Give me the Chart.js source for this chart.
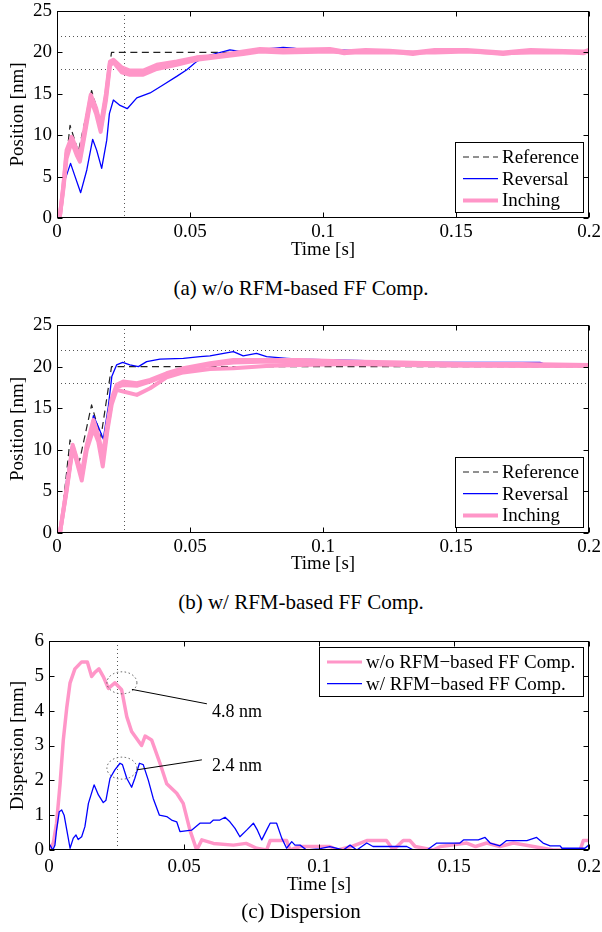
<!DOCTYPE html>
<html>
<head>
<meta charset="utf-8">
<script src="https://cdn.jsdelivr.net/npm/chart.js@4.4.0/dist/chart.umd.min.js"></script>
<style>
  body { margin: 0; background: #fff; width: 602px; height: 932px; position: relative; overflow: hidden;
         font-family: 'Liberation Serif', 'Times New Roman', serif; }
  canvas { position: absolute; left: 0; }
  .cap { position: absolute; left: 0; width: 602px; text-align: center; font-size: 21px; line-height: 24px; color: #000; }
</style>
</head>
<body>
<canvas id="chA" width="602" height="270" style="top:0px"></canvas>
<canvas id="chB" width="602" height="270" style="top:315px"></canvas>
<canvas id="chC" width="602" height="280" style="top:630px"></canvas>
<div class="cap" style="top:276px">(a) w/o RFM-based FF Comp.</div>
<div class="cap" style="top:590px">(b) w/ RFM-based FF Comp.</div>
<div class="cap" style="top:899px">(c) Dispersion</div>
<script>
// ---- data ----
const xTickVals = [0, 0.05, 0.1, 0.15, 0.2];
const xTickLabels = ['0', '0.05', '0.1', '0.15', '0.2'];
const posTicks = [0, 5, 10, 15, 20, 25];
const dispTicks = [0, 1, 2, 3, 4, 5, 6];
const posSeries = ['Reference', 'Reversal', 'Inching'];
const dispSeries = ['w/o RFM\u2212based FF Comp.', 'w/ RFM\u2212based FF Comp.'];
const guideLevels = [18, 22];
const guideTimes = [0.025];

// reference trajectory (same in a and b)
const refT = [0, 0.0012, 0.0049, 0.0080, 0.0130, 0.0165, 0.0205, 0.2];
const refV = [0, 0, 11.2, 8.0, 15.4, 11.5, 20.0, 20.0];

// (a) reversal
const revAT = [0, 0.001, 0.003, 0.0051, 0.0068, 0.0089, 0.0112, 0.0134, 0.0149, 0.0168, 0.0187, 0.0197, 0.0212, 0.0237, 0.0264, 0.030, 0.035, 0.040, 0.045, 0.0488, 0.0525, 0.0569, 0.065, 0.0713, 0.0776, 0.085, 0.0889, 0.095, 0.105, 0.115, 0.125, 0.133, 0.135, 0.145, 0.16, 0.175, 0.19, 0.2];
const revAV = [0, 0, 4.6, 6.6, 5.0, 3.06, 5.8, 9.5, 8.2, 6.0, 9.4, 12.6, 14.25, 13.6, 13.2, 14.5, 15.1, 16.1, 17.1, 17.9, 18.9, 19.6, 20.3, 20.0, 20.4, 20.6, 20.5, 20.2, 20.3, 20.2, 20.2, 20.1, 19.9, 20.1, 20.1, 20.0, 20.1, 20.1];

// (a) inching runs
const inchAT = [0, 0.001, 0.0024, 0.0036, 0.0055, 0.0074, 0.0086, 0.0105, 0.0127, 0.0147, 0.0164, 0.0184, 0.0199, 0.0212, 0.0243, 0.0274, 0.0324, 0.0375, 0.045, 0.0525, 0.06, 0.07, 0.0763, 0.085, 0.1026, 0.108, 0.116, 0.125, 0.1338, 0.142, 0.154, 0.1677, 0.178, 0.187, 0.198, 0.2];
const inchA1 = [0, 0, 3.8, 7.8, 9.6, 8.0, 7.2, 10.6, 14.65, 13.0, 10.8, 14.65, 18.7, 19.0, 17.95, 17.55, 17.55, 18.3, 18.7, 19.3, 19.5, 19.9, 20.3, 20.1, 20.3, 19.9, 20.2, 20.1, 19.8, 20.2, 20.2, 19.8, 20.2, 20.1, 19.9, 20.2];
const inchA2 = [0, 0, 3.5, 7.2, 9.2, 7.6, 6.8, 10.2, 14.3, 12.6, 10.4, 14.2, 18.4, 18.8, 17.6, 17.3, 17.3, 18.0, 18.5, 19.1, 19.4, 19.8, 20.1, 20.0, 20.1, 20.0, 20.0, 20.0, 20.0, 20.0, 20.1, 19.9, 20.0, 20.0, 20.0, 20.1];
const inchA3 = [0, 0, 4.0, 8.2, 9.8, 8.3, 7.5, 11.0, 14.9, 13.3, 11.1, 15.0, 18.9, 19.1, 18.2, 17.8, 17.8, 18.5, 18.9, 19.4, 19.6, 20.1, 20.4, 20.3, 20.4, 20.1, 20.3, 20.2, 20.0, 20.3, 20.3, 20.0, 20.3, 20.2, 20.1, 20.3];

// (b) reversal
const revBT = [0, 0.0011, 0.0018, 0.0036, 0.0055, 0.0075, 0.0093, 0.0115, 0.0137, 0.0155, 0.0174, 0.0193, 0.0206, 0.0224, 0.0247, 0.0274, 0.0306, 0.0337, 0.0387, 0.0475, 0.0538, 0.0575, 0.0663, 0.070, 0.075, 0.0788, 0.0864, 0.0914, 0.120, 0.121, 0.144, 0.1816, 0.184, 0.2];
const revBV = [0, 0, 0.8, 6.4, 10.4, 9.0, 7.6, 10.5, 14.1, 12.8, 11.3, 15.2, 18.8, 20.2, 20.5, 20.2, 20.0, 20.6, 20.9, 21.0, 21.2, 21.3, 21.8, 21.3, 21.6, 21.2, 21.0, 20.9, 20.7, 20.5, 20.5, 20.5, 20.2, 20.2];

// (b) inching runs
const inchBT = [0, 0.0011, 0.0036, 0.0059, 0.0074, 0.0093, 0.0112, 0.0137, 0.0155, 0.0172, 0.0189, 0.0206, 0.0224, 0.0249, 0.030, 0.035, 0.0412, 0.0475, 0.0575, 0.0663, 0.08, 0.0914, 0.11, 0.13, 0.154, 0.175, 0.2];
const inchB1 = [0, 0, 5.4, 10.6, 9.0, 7.2, 10.6, 13.6, 11.8, 9.3, 13.0, 16.2, 17.8, 18.2, 18.0, 18.4, 19.2, 19.8, 20.4, 20.8, 20.8, 20.8, 20.6, 20.5, 20.3, 20.3, 20.2];
const inchB2 = [0, 0, 5.2, 10.4, 8.8, 6.8, 10.4, 13.2, 11.4, 8.8, 12.6, 15.9, 17.5, 17.8, 17.7, 18.2, 19.0, 19.6, 20.2, 20.5, 20.6, 20.5, 20.4, 20.3, 20.2, 20.1, 20.1];
const inchB3 = [0, 0, 5.0, 10.2, 8.6, 6.3, 10.0, 12.5, 11.0, 8.0, 12.2, 15.5, 17.2, 17.0, 16.6, 17.4, 18.7, 19.3, 19.7, 19.8, 20.1, 20.2, 20.3, 20.2, 20.1, 20.1, 20.1];

// (c) dispersion
const dispWoT = [0, 0.0004, 0.0016, 0.0028, 0.0041, 0.0053, 0.0066, 0.0078, 0.0096, 0.0121, 0.0142, 0.0158, 0.017, 0.0185, 0.0201, 0.022, 0.0244, 0.0269, 0.0288, 0.0306, 0.0343, 0.0356, 0.038, 0.0411, 0.0436, 0.0473, 0.0497, 0.0522, 0.0547, 0.0566, 0.0609, 0.0683, 0.073, 0.0769, 0.0806, 0.0819, 0.088, 0.0893, 0.093, 0.104, 0.107, 0.112, 0.1177, 0.125, 0.1275, 0.1312, 0.1337, 0.1356, 0.1423, 0.145, 0.1547, 0.158, 0.1621, 0.167, 0.172, 0.1794, 0.1868, 0.1967, 0.1979, 0.2];
const dispWoV = [0, 0.05, 0.2, 0.77, 1.9, 3.16, 4.1, 4.8, 5.2, 5.4, 5.4, 4.98, 5.1, 5.2, 4.98, 4.64, 4.8, 4.6, 3.83, 3.4, 3.0, 3.27, 3.16, 2.49, 1.9, 1.63, 1.34, 0.57, 0, 0.29, 0.19, 0.14, 0.19, 0.05, 0, 0.27, 0.27, 0, 0.1, 0.1, 0, 0.1, 0.27, 0.27, 0, 0.27, 0.27, 0.1, 0, 0.1, 0.2, 0.1, 0.2, 0.1, 0.2, 0.1, 0, 0, 0.27, 0.27];
const dispWT = [0, 0.0004, 0.0014, 0.0022, 0.0028, 0.0038, 0.0047, 0.0056, 0.0066, 0.0078, 0.009, 0.01, 0.0108, 0.0121, 0.0133, 0.0146, 0.0167, 0.0183, 0.0201, 0.0211, 0.0226, 0.0244, 0.0263, 0.0272, 0.0288, 0.0306, 0.0318, 0.0335, 0.0349, 0.0368, 0.0386, 0.0409, 0.0436, 0.0454, 0.0473, 0.0485, 0.0528, 0.0559, 0.0596, 0.0609, 0.0633, 0.0652, 0.067, 0.0689, 0.0707, 0.0732, 0.0757, 0.0772, 0.0788, 0.0806, 0.0819, 0.0843, 0.0862, 0.088, 0.0899, 0.0911, 0.093, 0.0954, 0.1, 0.104, 0.109, 0.1115, 0.114, 0.1177, 0.12, 0.1325, 0.135, 0.14, 0.1436, 0.1522, 0.1535, 0.159, 0.1615, 0.1634, 0.167, 0.1695, 0.177, 0.1806, 0.183, 0.1856, 0.1893, 0.19, 0.1985, 0.2];
const dispWV = [0.1, 0.14, 0, 0.14, 0.57, 1.1, 1.15, 1.0, 0.57, 0.05, 0.34, 0.43, 0.3, 0.38, 0.67, 1.34, 1.87, 1.58, 1.36, 1.43, 2.06, 2.3, 2.49, 2.45, 2.06, 1.8, 2.06, 2.49, 2.45, 2.0, 1.48, 1.0, 0.96, 0.86, 0.81, 0.53, 0.57, 0.77, 0.77, 0.86, 0.86, 0.94, 0.81, 0.62, 0.38, 0.57, 0.77, 0.57, 0.29, 0.57, 0.77, 0.77, 0.34, 0.05, 0.24, 0.14, 0.14, 0, 0.03, 0.1, 0, 0.14, 0, 0.2, 0.1, 0.1, 0, 0, 0.2, 0.2, 0.29, 0.29, 0.36, 0.2, 0.12, 0.27, 0.27, 0.36, 0.2, 0.12, 0.12, 0.05, 0.05, 0.15];

// callouts in (c)
const noteT = [0.027, 0.027];
const noteV = [4.8, 2.35];
const noteText = ['4.8 nm', '2.4 nm'];

// ---- styles ----
const PINK = 'rgb(255,150,200)';
const BLUE = '#0000ff';
const REF = '#222';
const FONT = "'Liberation Serif', 'Times New Roman', serif";

Chart.defaults.font.family = FONT;
Chart.defaults.font.size = 19;
Chart.defaults.color = '#000';

const pts = (t, v) => t.map((ti, i) => ({ x: ti, y: v[i] }));

function line(t, v, color, width, order, dash) {
  return {
    data: pts(t, v), borderColor: color, borderWidth: width, borderDash: dash || [],
    pointRadius: 0, fill: false, tension: 0, order: order,
    borderJoinStyle: 'round', borderCapStyle: width > 2 ? 'round' : 'butt'
  };
}

const overlay = {
  id: 'overlay',
  beforeDatasetsDraw(chart, args, o) {
    const { ctx, chartArea: a, scales: { x, y } } = chart;
    ctx.save();
    ctx.strokeStyle = '#555';
    ctx.lineWidth = 1;
    ctx.setLineDash([1, 3]);
    ctx.beginPath();
    (o.levels || []).forEach(v => {
      const p = Math.round(y.getPixelForValue(v)) + 0.5;
      ctx.moveTo(a.left, p); ctx.lineTo(a.right, p);
    });
    (o.times || []).forEach(t => {
      const p = Math.round(x.getPixelForValue(t)) + 0.5;
      ctx.moveTo(p, a.top); ctx.lineTo(p, a.bottom);
    });
    ctx.stroke();
    ctx.restore();
  },
  afterDraw(chart, args, o) {
    const { ctx, chartArea: a, scales: { x, y } } = chart;
    ctx.save();
    // frame and inward ticks
    const L = Math.round(a.left) + 0.5, R = Math.round(a.right) - 0.5;
    const T = Math.round(a.top) + 0.5, B = Math.round(a.bottom) - 0.5;
    ctx.strokeStyle = '#000';
    ctx.lineWidth = 1;
    ctx.setLineDash([]);
    ctx.strokeRect(L, T, R - L, B - T);
    ctx.beginPath();
    x.ticks.forEach(tk => {
      const p = Math.round(x.getPixelForValue(tk.value)) + 0.5;
      ctx.moveTo(p, B); ctx.lineTo(p, B - 5);
      ctx.moveTo(p, T); ctx.lineTo(p, T + 5);
    });
    y.ticks.forEach(tk => {
      const p = Math.round(y.getPixelForValue(tk.value)) + 0.5;
      ctx.moveTo(L, p); ctx.lineTo(L + 5, p);
      ctx.moveTo(R, p); ctx.lineTo(R - 5, p);
    });
    ctx.stroke();

    // callouts
    (o.notes || []).forEach(n => {
      const cx = x.getPixelForValue(n.t), cy = y.getPixelForValue(n.v);
      ctx.strokeStyle = '#555';
      ctx.setLineDash([1.5, 2.5]);
      ctx.beginPath();
      ctx.ellipse(cx, cy, 15, 11, 0, 0, Math.PI * 2);
      ctx.stroke();
      ctx.setLineDash([]);
      ctx.strokeStyle = '#000';
      ctx.beginPath();
      ctx.moveTo(cx + n.from[0], cy + n.from[1]);
      ctx.lineTo(cx + n.to[0], cy + n.to[1]);
      ctx.stroke();
      ctx.fillStyle = '#000';
      ctx.font = '18px ' + FONT;
      ctx.textAlign = 'left';
      ctx.textBaseline = 'middle';
      ctx.fillText(n.text, cx + n.at[0], cy + n.at[1]);
    });

    // legend
    const lg = o.legend;
    if (lg) {
      const bx = Math.round(a.right - lg.inset - lg.w);
      const by = Math.round(lg.corner === 'top' ? a.top + lg.inset : a.bottom - lg.inset - lg.h);
      ctx.setLineDash([]);
      ctx.fillStyle = '#fff';
      ctx.fillRect(bx, by, lg.w, lg.h);
      ctx.strokeStyle = '#000';
      ctx.lineWidth = 1;
      ctx.strokeRect(bx + 0.5, by + 0.5, lg.w, lg.h);
      ctx.font = '19px ' + FONT;
      ctx.textAlign = 'left';
      ctx.textBaseline = 'middle';
      lg.items.forEach((it, i) => {
        const cy = by + 15 + i * 21.7;
        ctx.strokeStyle = it.color;
        ctx.lineWidth = it.width;
        ctx.setLineDash(it.dash || []);
        ctx.beginPath();
        ctx.moveTo(bx + 8, cy); ctx.lineTo(bx + 43, cy);
        ctx.stroke();
        ctx.fillStyle = '#000';
        ctx.fillText(it.label, bx + 47, cy + 1);
      });
    }
    ctx.restore();
  }
};

function build(id, cfg) {
  const lh = 19 * 1.2;
  return new Chart(document.getElementById(id), {
    type: 'line',
    data: { datasets: cfg.datasets },
    options: {
      responsive: false,
      animation: false,
      events: [],
      layout: { padding: { top: cfg.top, right: 13, left: 0, bottom: cfg.canvasH - cfg.titleY - lh / 2 } },
      plugins: { legend: { display: false }, tooltip: { enabled: false }, overlay: cfg.overlay },
      scales: {
        x: {
          type: 'linear', min: 0, max: 0.2,
          grid: { display: false, drawTicks: false }, border: { display: false },
          afterBuildTicks: s => { s.ticks = xTickVals.map(v => ({ value: v })); },
          ticks: { padding: cfg.xPad, maxRotation: 0, autoSkip: false, callback: (v, i) => xTickLabels[i] },
          title: { display: true, text: 'Time [s]', padding: 0 },
          afterFit: s => { s.height = cfg.titleY + lh / 2 - cfg.bottom; s.paddingLeft = 0; s.paddingRight = 0; }
        },
        y: {
          type: 'linear', min: cfg.yTicks[0], max: cfg.yTicks[cfg.yTicks.length - 1],
          grid: { display: false, drawTicks: false }, border: { display: false },
          afterBuildTicks: s => { s.ticks = cfg.yTicks.map(v => ({ value: v })); },
          ticks: { padding: 5, autoSkip: false, callback: v => String(v) },
          title: { display: true, text: cfg.yTitle, padding: { top: 7, bottom: 0 } },
          afterFit: s => { s.width = cfg.left; s.paddingTop = 0; s.paddingBottom = 0; }
        }
      }
    },
    plugins: [overlay]
  });
}

const posLegend = (corner) => ({
  corner: corner, inset: 6, w: 128, h: 70,
  items: [
    { label: posSeries[0], color: REF, width: 1.2, dash: [6, 4] },
    { label: posSeries[1], color: BLUE, width: 1.3 },
    { label: posSeries[2], color: PINK, width: 4 }
  ]
});

build('chA', {
  canvasH: 270, top: 11, bottom: 218, left: 57, titleY: 250, xPad: 3,
  yTicks: posTicks, yTitle: 'Position [nm]',
  datasets: [
    line(refT, refV, REF, 1.2, 3, [7, 4.5]),
    line(revAT, revAV, BLUE, 1.3, 2),
    line(inchAT, inchA2, PINK, 4, 1),
    line(inchAT, inchA3, PINK, 4, 1),
    line(inchAT, inchA1, PINK, 4, 0)
  ],
  overlay: { levels: guideLevels, times: guideTimes, legend: posLegend('bottom') }
});

build('chB', {
  canvasH: 270, top: 10, bottom: 218, left: 57, titleY: 249, xPad: 3,
  yTicks: posTicks, yTitle: 'Position [nm]',
  datasets: [
    line(refT, refV, REF, 1.2, 3, [7, 4.5]),
    line(revBT, revBV, BLUE, 1.3, 2),
    line(inchBT, inchB3, PINK, 4, 1),
    line(inchBT, inchB2, PINK, 4, 1),
    line(inchBT, inchB1, PINK, 4, 0)
  ],
  overlay: { levels: guideLevels, times: guideTimes, legend: posLegend('bottom') }
});

build('chC', {
  canvasH: 280, top: 11, bottom: 220, left: 49, titleY: 255, xPad: 6,
  yTicks: dispTicks, yTitle: 'Dispersion [mm]',
  datasets: [
    line(dispWoT, dispWoV, PINK, 3.5, 1),
    line(dispWT, dispWV, BLUE, 1.3, 0)
  ],
  overlay: {
    times: guideTimes,
    legend: {
      corner: 'top', inset: 6, w: 264, h: 49,
      items: [
        { label: dispSeries[0], color: PINK, width: 3 },
        { label: dispSeries[1], color: BLUE, width: 1.3 }
      ]
    },
    notes: [
      { t: noteT[0], v: noteV[0], text: noteText[0], from: [10, 6.6], to: [85, 21], at: [90, 29] },
      { t: noteT[1], v: noteV[1], text: noteText[1], from: [15, 1.7], to: [80, -8.3], at: [90, -1.6] }
    ]
  }
});
</script>
</body>
</html>
